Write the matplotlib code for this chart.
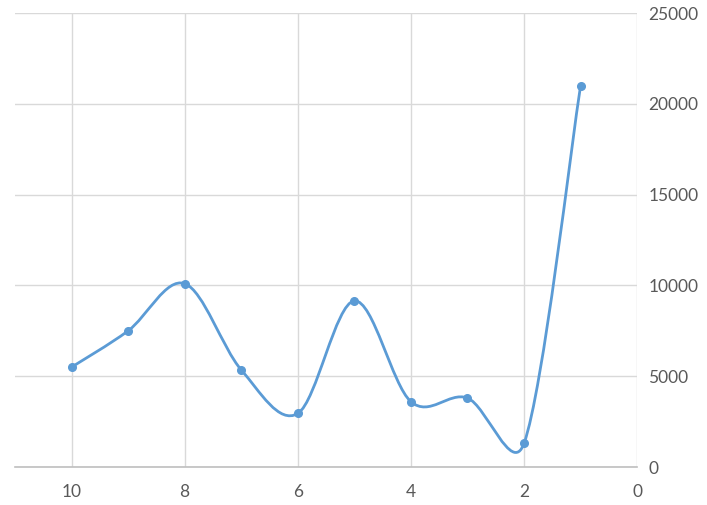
import numpy as np
import matplotlib
matplotlib.use("Agg")
import matplotlib.pyplot as plt
from matplotlib.path import Path
from matplotlib.patches import PathPatch

# ── Data ──────────────────────────────────────────────────────────────────────
x_vals = [10, 9, 8, 7, 6, 5, 4, 3, 2, 1]
y_vals = [5500, 7500, 10100, 5350, 2950, 9150, 3600, 3800, 1300, 21000]
x_ticks = [10, 8, 6, 4, 2, 0]
y_ticks = [0, 5000, 10000, 15000, 20000, 25000]

# ── Style ─────────────────────────────────────────────────────────────────────
BLUE = "#5B9BD5"
GRID = "#D9D9D9"
AXIS = "#BFBFBF"
TEXT = "#595959"

plt.rcParams["font.family"] = ["Lato", "DejaVu Sans"]

fig = plt.figure(figsize=(7.07, 5.05), dpi=100)
ax = fig.add_axes([0.0212, 0.0752, 0.880, 0.899])

ax.set_xlim(11, 0)
ax.set_ylim(0, 25000)
ax.set_xticks(x_ticks)
ax.set_yticks(y_ticks)
ax.yaxis.tick_right()
ax.tick_params(length=0, labelsize=12.5, colors=TEXT)
ax.tick_params(axis="x", pad=12)
ax.tick_params(axis="y", pad=8)
ax.grid(True, color=GRID, linewidth=1)
ax.set_axisbelow(True)
for s in ["top", "left", "right"]:
    ax.spines[s].set_visible(False)
ax.spines["bottom"].set_color(AXIS)
ax.spines["bottom"].set_linewidth(1.2)

# ── Smoothed line (Excel-like Bezier, control arms capped at half a segment) ─
pts = ax.transData.transform(np.column_stack([x_vals, y_vals]))
n = len(pts)

def arm(tangent, seg_len):
    L = np.hypot(*tangent)
    f = 1.0 / 6.0
    if L > 0 and L / 6.0 > seg_len / 2.0:
        f = seg_len / 2.0 / L
    return f * tangent

verts = [pts[0]]
codes = [Path.MOVETO]
for i in range(n - 1):
    p0 = pts[i - 1] if i > 0 else pts[i]
    p1 = pts[i]
    p2 = pts[i + 1]
    p3 = pts[i + 2] if i + 2 < n else pts[i + 1]
    d12 = np.hypot(*(p2 - p1))
    c1 = p1 + arm(p2 - p0, d12)
    c2 = p2 - arm(p3 - p1, d12)
    verts += [c1, c2, p2]
    codes += [Path.CURVE4] * 3
verts = ax.transData.inverted().transform(np.array(verts))
ax.add_patch(PathPatch(Path(verts, codes), facecolor="none", edgecolor=BLUE,
                       linewidth=2, zorder=3))
ax.plot(x_vals, y_vals, "o", color=BLUE, markersize=5.5, zorder=4)

fig.savefig("out.png", dpi=100, facecolor="white")
